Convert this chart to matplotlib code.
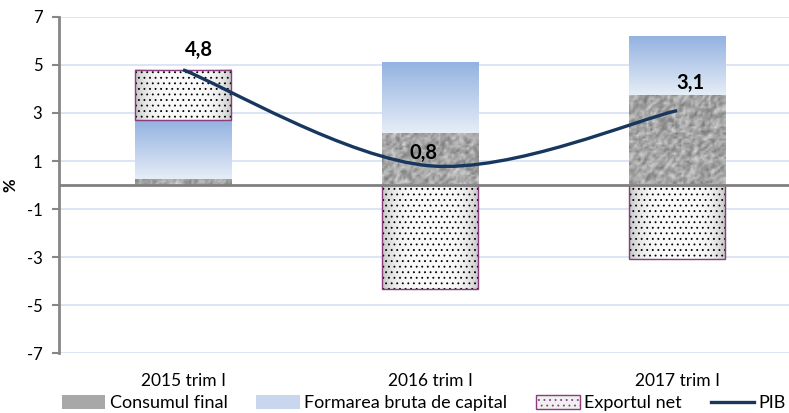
import numpy as np
import matplotlib
matplotlib.use("Agg")
import matplotlib.pyplot as plt
from matplotlib.patches import Patch, Rectangle, PathPatch
from matplotlib.lines import Line2D
from matplotlib.path import Path

plt.rcParams['font.family'] = ['Lato', 'DejaVu Sans']
plt.rcParams['hatch.linewidth'] = 0.6

# date (puncte procentuale)
categorii = ["2015 trim I", "2016 trim I", "2017 trim I"]
consum_final = [0.25, 2.15, 3.75]
formare_capital = [2.45, 2.95, 2.45]
export_net = [2.1, -4.35, -3.1]
pib = [4.8, 0.8, 3.1]
etichete_pib = ["4,8", "0,8", "3,1"]

fig = plt.figure(figsize=(7.89, 4.13), dpi=100)
ax = fig.add_axes([0.0748, 0.145, 0.9252, 0.814])

x = np.arange(len(categorii))
w = 0.39
rng = np.random.default_rng(3)


def granit(h, wd):
    # textura gri de tip granit
    a = rng.random((h, wd))
    a = (a + np.roll(a, 1, 0) + np.roll(a, 1, 1)) / 3
    return a


def gradient_albastru(n=64):
    t = np.linspace(0, 1, n)[:, None]
    top = np.array([0.58, 0.70, 0.88])
    bot = np.array([0.90, 0.93, 0.97])
    img = top * (1 - t) + bot * t
    return img[:, None, :].repeat(2, axis=1)


def cilindru(n=64):
    s = np.linspace(-1, 1, n)
    v = 0.98 - 0.2 * np.abs(s) ** 4
    img = np.tile(v, (8, 1))
    return np.dstack([img, img, img])


for i in range(len(categorii)):
    x0, x1 = x[i] - w / 2, x[i] + w / 2
    # Consumul final
    b0, b1 = 0, consum_final[i]
    h = max(2, int(abs(b1 - b0) * 12))
    ax.imshow(granit(h, 50), cmap='gray', vmin=-1.0, vmax=1.3, extent=[x0, x1, b0, b1],
              aspect='auto', interpolation='bilinear', zorder=2)
    # Formarea bruta de capital
    f0, f1 = b1, b1 + formare_capital[i]
    ax.imshow(gradient_albastru(), extent=[x0, x1, f0, f1], aspect='auto',
              interpolation='bilinear', zorder=2)
    # Exportul net
    if export_net[i] >= 0:
        e0, e1 = f1, f1 + export_net[i]
    else:
        e0, e1 = export_net[i], 0
    ax.imshow(cilindru(), extent=[x0, x1, e0, e1], aspect='auto',
              interpolation='bilinear', zorder=2)
    ax.add_patch(Rectangle((x0, e0), w, e1 - e0, facecolor='none', hatch='...',
                           linewidth=0, zorder=3))
    ax.add_patch(Rectangle((x0, e0), w, e1 - e0, facecolor='none', edgecolor='#8a3c7e',
                           linewidth=1.0, zorder=3))

# PIB - linie netezita prin punctele de date
pts = np.column_stack([x, pib]).astype(float)
verts = [pts[0]]
codes = [Path.MOVETO]
n = len(pts)
for i in range(n - 1):
    p_prev = pts[i - 1] if i > 0 else pts[i]
    p_next = pts[i + 2] if i + 2 < n else pts[i + 1]
    c1 = pts[i] + (pts[i + 1] - p_prev) / 6
    c2 = pts[i + 1] - (p_next - pts[i]) / 6
    verts += [c1, c2, pts[i + 1]]
    codes += [Path.CURVE4] * 3
ax.add_patch(PathPatch(Path(verts, codes), facecolor='none', edgecolor='#17375e',
                       linewidth=2.4, zorder=4, capstyle='butt'))

offs = [(0.065, 0.83), (-0.025, 0.54), (0.053, 1.17)]
for i in range(n):
    ax.text(x[i] + offs[i][0], pib[i] + offs[i][1], etichete_pib[i], ha='center', va='center',
            fontsize=14.5, fontweight='bold', color='black', zorder=5)

ax.set_xlim(-0.502, 2.453)
ax.set_ylim(-7, 7)
ax.set_yticks(np.arange(-7, 8, 2))
ax.set_yticklabels([str(v) for v in range(-7, 8, 2)])
ax.set_xticks(x)
ax.set_xticklabels(categorii, fontsize=12.5)
ax.tick_params(axis='x', length=0, pad=14)
ax.tick_params(axis='y', length=5, width=1.5, color='#868686', labelsize=12, pad=7)
ax.grid(axis='y', color='#d6e0f2', linewidth=1.2, zorder=0)
ax.set_axisbelow(True)
for s in ['top', 'right', 'bottom']:
    ax.spines[s].set_visible(False)
ax.spines['left'].set_color('#868686')
ax.spines['left'].set_linewidth(2)
ax.axhline(0, color='#808080', linewidth=2, zorder=3.5)
ax.set_ylabel('%', fontsize=12, fontweight='bold', labelpad=6)

handles = [
    Patch(facecolor='#a8a8a8', edgecolor='none', label='Consumul final'),
    Patch(facecolor='#c9d7ee', edgecolor='none', label='Formarea bruta de capital'),
    Patch(facecolor='#f0f0f0', edgecolor='#8a3c7e', hatch='...', label='Exportul net'),
    Line2D([0], [0], color='#17375e', linewidth=2.4, label='PIB'),
]
fig.legend(handles=handles, loc='center', bbox_to_anchor=(0.537, 0.024), ncol=4,
           frameon=False, fontsize=13, handlelength=2.4, handleheight=0.8,
           columnspacing=1.6, handletextpad=0.25, borderpad=0.1)

fig.savefig('out.png', dpi=100)
